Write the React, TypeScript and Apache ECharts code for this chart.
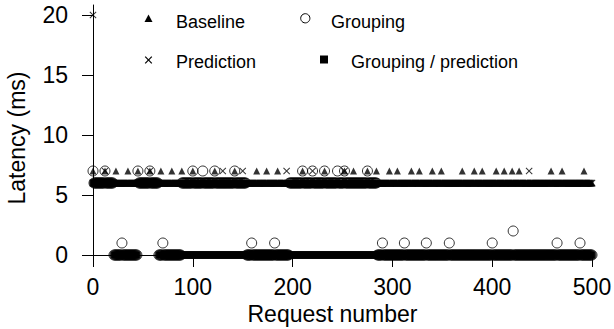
import React, { useEffect, useRef } from "react";
import * as echarts from "echarts";

// ---------- data ----------
const requestRange = [0, 500];
const xTicks = [0, 100, 200, 300, 400, 500];
const yTicks = [0, 5, 10, 15, 20];
const seriesNames = ["Baseline", "Grouping", "Prediction", "Grouping / prediction"];

// Runs of requests with a steady latency: [firstRequest, lastRequest, latencyMs]
const baselineRuns = [[0, 500, 6.0]];
// Individual requests that differ from their run: [request, latencyMs]
const baselineSpikes = [
  [0, 7], [12, 7], [23, 7], [35, 7], [45, 7], [57, 7], [68, 7], [79, 7], [89, 7], [100, 7],
  [122, 7], [142, 7], [164, 7], [174, 7], [185, 7], [210, 7], [232, 7], [252, 7], [261, 7],
  [275, 7], [284, 7], [297, 7], [305, 7], [319, 7], [327, 7], [340, 7], [349, 7], [370, 7],
  [382, 7], [390, 7], [404, 7], [412, 7], [420, 7], [427, 7], [459, 7], [470, 7], [492, 7],
];

const predictionRuns = [[0, 500, 6.0]];
const predictionSpikes = [
  [0, 20], [12, 7], [57, 7], [130, 7], [150, 7], [194, 7], [220, 7], [252, 7], [437, 7],
];

const groupingRuns = [
  [0, 20, 6.0], [21, 44, 0], [45, 65, 6.0], [66, 88, 0],
  [89, 153, 6.0], [154, 196, 0], [197, 284, 6.0], [285, 500, 0],
];
const groupingSpikes = [
  [0, 7], [12, 7], [45, 7], [57, 7], [100, 7], [110, 7], [122, 7], [142, 7],
  [210, 7], [220, 7], [232, 7], [245, 7], [252, 7], [275, 7],
  [29, 1], [70, 1], [159, 1], [182, 1], [290, 1], [312, 1], [334, 1], [357, 1],
  [400, 1], [421, 2], [465, 1], [488, 1],
];

const groupPredRuns = [[0, 20, 6.0], [21, 44, 0], [45, 65, 6.0], [66, 500, 0]];
const groupPredSpikes: number[][] = [];

// ---------- helpers ----------
function buildSeries(runs: number[][], spikes: number[][]) {
  const spikeMap = new Map<number, number>();
  spikes.forEach(([r, v]) => spikeMap.set(r, v));
  const out: number[][] = [];
  runs.forEach(([a, b, v]) => {
    for (let r = a; r <= b; r++) {
      out.push([r, spikeMap.has(r) ? (spikeMap.get(r) as number) : v]);
    }
  });
  return out;
}

const FONT = "'Liberation Sans', Arial, Helvetica, sans-serif";
const CROSS = "path://M0,1L1,0L5,4L9,0L10,1L6,5L10,9L9,10L5,6L1,10L0,9L4,5Z";

function legendLabel(text: string, x: number, y: number) {
  return {
    type: "text",
    x,
    y,
    silent: true,
    style: { text, fill: "#000", font: `18px ${FONT}`, verticalAlign: "middle", align: "left" },
  };
}

export default function App() {
  const ref = useRef<HTMLDivElement>(null);

  useEffect(() => {
    if (!ref.current) return;
    const chart = echarts.init(ref.current, undefined, { renderer: "svg" });

    const legendGraphic = [
      // Baseline
      {
        type: "polygon", silent: true,
        shape: { points: [[144.5, 22], [152.5, 22], [148.5, 14.6]] },
        style: { fill: "#000" },
      },
      legendLabel(seriesNames[0], 176, 22),
      // Grouping
      {
        type: "circle", silent: true,
        shape: { cx: 305.3, cy: 18.3, r: 4.6 },
        style: { fill: "none", stroke: "#000", lineWidth: 1 },
      },
      legendLabel(seriesNames[1], 331, 22),
      // Prediction
      {
        type: "line", silent: true,
        shape: { x1: 145.2, y1: 56.7, x2: 151.8, y2: 63.3 },
        style: { stroke: "#000", lineWidth: 1.2 },
      },
      {
        type: "line", silent: true,
        shape: { x1: 145.2, y1: 63.3, x2: 151.8, y2: 56.7 },
        style: { stroke: "#000", lineWidth: 1.2 },
      },
      legendLabel(seriesNames[2], 176, 62),
      // Grouping / prediction
      {
        type: "rect", silent: true,
        shape: { x: 320, y: 55.5, width: 8, height: 8 },
        style: { fill: "#000" },
      },
      legendLabel(seriesNames[3], 351, 62),
    ];

    chart.setOption({
      animation: false,
      backgroundColor: "#fff",
      textStyle: { fontFamily: FONT, color: "#000" },
      grid: { left: 93, right: 22, top: 5, bottom: 74, outerBoundsMode: "none", containLabel: false },
      graphic: legendGraphic,
      xAxis: {
        type: "value",
        min: requestRange[0],
        max: requestRange[1],
        interval: 100,
        axisLine: { show: true, onZero: true, lineStyle: { color: "#000", width: 1 } },
        axisTick: { show: true, length: 12, lineStyle: { color: "#000", width: 1 }, customValues: xTicks },
        axisLabel: { fontSize: 23, color: "#000", margin: 20, fontFamily: FONT, customValues: xTicks },
        splitLine: { show: false },
        name: "Request number",
        nameLocation: "middle",
        nameGap: 44,
        nameTextStyle: { fontSize: 23, color: "#000", fontFamily: FONT, padding: [0, 20, 0, 0] },
      },
      yAxis: {
        type: "value",
        min: 0,
        max: 20.83,
        axisLine: { show: true, lineStyle: { color: "#000", width: 1 } },
        axisTick: { show: true, length: 11, lineStyle: { color: "#000", width: 1 }, customValues: yTicks },
        axisLabel: { fontSize: 23, color: "#000", margin: 25, fontFamily: FONT, customValues: yTicks },
        splitLine: { show: false },
        name: "Latency (ms)",
        nameLocation: "middle",
        nameGap: 65,
        nameTextStyle: { fontSize: 23, color: "#000", fontFamily: FONT, padding: [0, 16, 0, 0] },
      },
      series: [
        {
          type: "scatter", name: seriesNames[3], data: buildSeries(groupPredRuns, groupPredSpikes),
          symbol: "rect", symbolSize: 7, itemStyle: { color: "#000" }, silent: true, clip: false,
        },
        {
          type: "scatter", name: seriesNames[0], data: buildSeries(baselineRuns, baselineSpikes),
          symbol: "triangle", symbolSize: 7, itemStyle: { color: "#000" }, silent: true, clip: false,
        },
        {
          type: "scatter", name: seriesNames[2], data: buildSeries(predictionRuns, predictionSpikes),
          symbol: CROSS, symbolSize: 7, itemStyle: { color: "#000" }, silent: true, clip: false,
        },
        {
          type: "scatter", name: seriesNames[1], data: buildSeries(groupingRuns, groupingSpikes),
          symbol: "circle", symbolSize: 10,
          itemStyle: { color: "rgba(0,0,0,0)", borderColor: "#000", borderWidth: 1 },
          silent: true, clip: false,
        },
      ],
    });

    return () => chart.dispose();
  }, []);

  return (
    <div
      ref={ref}
      style={{ position: "absolute", left: 0, top: 0, width: 614, height: 329 }}
    />
  );
}
